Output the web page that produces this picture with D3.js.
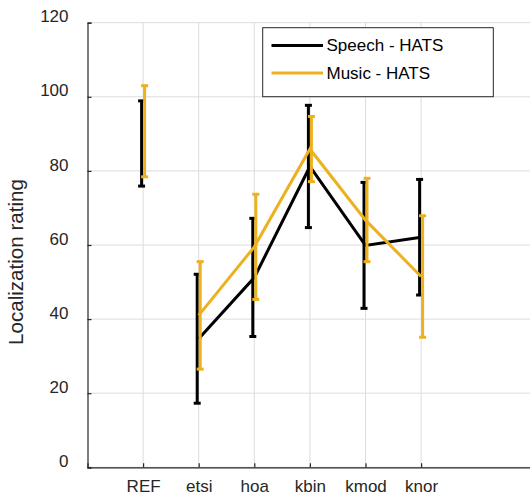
<!DOCTYPE html>
<html><head><meta charset="utf-8">
<script src="https://cdn.jsdelivr.net/npm/d3@7"></script>
<style>body{margin:0;background:#fff}svg{display:block}</style>
</head><body>
<svg id="c" width="530" height="495"></svg>
<script>
const categories = ["REF","etsi","hoa","kbin","kmod","knor"];
const yTicks = [0,20,40,60,80,100,120];
const speechMean = [87.4, 34.7, 51.2, 81.2, 59.9, 62.1];
const speechLow  = [75.9, 17.3, 35.3, 64.7, 42.9, 46.5];
const speechHigh = [98.9, 52.1, 67.2, 97.7, 76.9, 77.7];
const musicMean  = [90.7, 41.0, 59.5, 85.9, 66.7, 51.5];
const musicLow   = [78.4, 26.5, 45.3, 77.1, 55.5, 35.1];
const musicHigh  = [103.0, 55.5, 73.7, 94.7, 78.0, 67.9];
const seriesNames = ["Speech - HATS","Music - HATS"];
const colors = ["#000000","#EDB120"];

const svg = d3.select("#c");
const L = 87.5, T = 22.7, B = 467.3, R = 532.3;
const x = d3.scaleLinear().domain([0,8]).range([L,R]);
const y = d3.scaleLinear().domain([0,120]).range([B,T]);
const font = "Liberation Sans, Arial, sans-serif";

// grid
const g = svg.append("g");
g.selectAll("line.h").data(yTicks).join("line")
  .attr("x1",L).attr("x2",R).attr("y1",d=>y(d)).attr("y2",d=>y(d))
  .attr("stroke","#dcdcdc").attr("stroke-width",1);
g.selectAll("line.v").data(categories).join("line")
  .attr("x1",(d,i)=>x(i+1)).attr("x2",(d,i)=>x(i+1)).attr("y1",T).attr("y2",B)
  .attr("stroke","#dcdcdc").attr("stroke-width",1);

// axes
const yAxis = d3.axisLeft(y).tickValues(yTicks).tickSize(-4).tickPadding(19);
const ya = svg.append("g").attr("transform",`translate(${L},0)`).call(yAxis);
const xAxis = d3.axisBottom(x).tickValues(categories.map((d,i)=>i+1))
  .tickFormat((d)=>categories[d-1]).tickSize(-4).tickPadding(12.3);
const xa = svg.append("g").attr("transform",`translate(0,${B})`).call(xAxis);
[ya,xa].forEach(a=>{
  a.select(".domain").attr("stroke","#262626").attr("stroke-width",1.2);
  a.selectAll(".tick line").attr("stroke","#262626").attr("stroke-width",1.2);
  a.selectAll("text").attr("fill","#262626").style("font-family",font).style("font-size","17px");
});
ya.selectAll("text").attr("dy","-0.05em");
xa.selectAll("text").attr("dy","0.71em");

svg.append("text").attr("transform",`translate(22.7,262) rotate(-90)`)
  .attr("text-anchor","middle").attr("fill","#262626")
  .style("font-family",font).style("font-size","20.6px").text("Localization rating");

// series
const series = [
  {mean:speechMean, low:speechLow, high:speechHigh, off:-1.5},
  {mean:musicMean, low:musicLow, high:musicHigh, off:1.5}
];
const line = d3.line().x(d=>x(d.i+1)).y(d=>y(d.v));
series.forEach((s,k)=>{
  const gg = svg.append("g");
  const pts = s.mean.map((v,i)=>({v,i})).filter(d=>d.i>0);
  gg.append("path").datum(pts).attr("d",line).attr("fill","none")
    .attr("stroke",colors[k]).attr("stroke-width",3);
  s.mean.forEach((m,i)=>{
    const cx = x(i+1)+s.off;
    gg.append("line").attr("x1",cx).attr("x2",cx).attr("y1",y(s.low[i])).attr("y2",y(s.high[i]))
      .attr("stroke",colors[k]).attr("stroke-width",3);
    [s.low[i],s.high[i]].forEach(v=>{
      gg.append("line").attr("x1",cx-3.5).attr("x2",cx+3.5).attr("y1",y(v)).attr("y2",y(v))
        .attr("stroke",colors[k]).attr("stroke-width",3);
    });
  });
});

// legend
const lg = svg.append("g");
lg.append("rect").attr("x",262.7).attr("y",27.7).attr("width",230.6).attr("height",69)
  .attr("fill","#fff").attr("stroke","#262626").attr("stroke-width",1);
seriesNames.forEach((n,k)=>{
  const cy = 45.5 + k*27.5;
  lg.append("line").attr("x1",271.5).attr("x2",323).attr("y1",cy).attr("y2",cy)
    .attr("stroke",colors[k]).attr("stroke-width",3);
  lg.append("text").attr("x",326.5).attr("y",cy).attr("dy","0.35em")
    .attr("fill","#000").style("font-family",font).style("font-size","17px").text(n);
});
</script>
</body></html>
